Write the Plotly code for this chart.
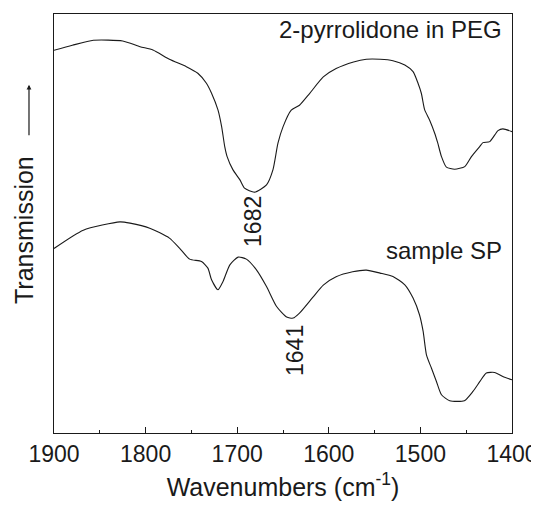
import plotly.graph_objects as go

# Wavenumbers (cm^-1) and transmission (arbitrary units)
wn_peg = [1900, 1880, 1857, 1825, 1806, 1792, 1774, 1755.5, 1743, 1733.6, 1728, 1721, 1717,
          1713.6, 1711, 1704.6, 1697, 1692, 1681, 1668, 1661, 1655.5, 1650, 1641, 1632, 1621,
          1606, 1592, 1573, 1559, 1544, 1530, 1517, 1508, 1502.6, 1499, 1495.3, 1490, 1484.4,
          1481, 1477, 1471.6, 1462.6, 1451.6, 1444.3, 1435.3, 1431.7, 1424.3, 1415.3, 1410, 1400]
tr_peg = [383, 388, 393, 392.3, 386.6, 383.3, 374, 366.6, 360, 350, 340, 323.3, 306.6,
          286.6, 276.6, 263.3, 253.3, 245, 241, 248.3, 263.3, 290, 306.3, 323, 328, 339.7,
          356.3, 364.7, 371.3, 374, 374, 372.6, 368.3, 361.6, 350, 340, 323.3, 313.3, 300,
          290, 276.6, 266, 264, 266.6, 276.6, 286.6, 290.6, 291.6, 302.6, 304.3, 301.6]

wn_sp = [1900, 1868, 1828, 1817, 1795.5, 1774, 1763, 1752, 1739, 1732, 1728, 1721, 1715.5,
         1708, 1699, 1690, 1679, 1668, 1657, 1646, 1639, 1632, 1617, 1606, 1592, 1574, 1559,
         1544, 1530, 1517, 1508, 1501, 1497, 1493.4, 1488, 1482.5, 1477, 1468, 1452, 1442.6,
         1435, 1428, 1419, 1410, 1400]
tr_sp = [184.7, 203, 211.3, 210, 205, 195, 185, 174, 171.6, 165, 153.3, 143.3, 151.6,
         168.3, 176, 174, 163.3, 146.6, 126.6, 116, 115, 120, 136.3, 148, 156.3, 161.3, 163,
         160, 156.6, 148.3, 135, 118.3, 101.6, 78.3, 65, 51.6, 38.3, 32.3, 32.3, 41.6,
         51.6, 60, 60.6, 56.6, 53.3]

series_names = ["2-pyrrolidone in PEG", "sample SP"]
peak_labels = [(1683, 212, "1682"), (1637, 83, "1641")]
x_ticks = [1900, 1800, 1700, 1600, 1500, 1400]

FONT = "Liberation Sans, Arial, sans-serif"
INK = "#1a1a1a"

fig = go.Figure()
for wn, tr, name in [(wn_peg, tr_peg, series_names[0]), (wn_sp, tr_sp, series_names[1])]:
    fig.add_trace(go.Scatter(x=wn, y=tr, mode="lines", name=name,
                             line=dict(color=INK, width=1.1, shape="spline", smoothing=0.6)))

# the page body has an 8px margin, so the figure is 8px smaller each way
fig.update_layout(
    width=531, height=498,
    margin=dict(l=46, r=27, t=6, b=73),
    paper_bgcolor="white", plot_bgcolor="white",
    showlegend=False,
    font=dict(family=FONT, color=INK),
)
fig.update_xaxes(
    range=[1900, 1400], tickvals=x_ticks, ticks="inside", ticklen=6, tickwidth=1,
    tickcolor=INK, showline=True, linecolor=INK, linewidth=1, mirror=True, automargin=False,
    showgrid=False, zeroline=False, tickfont=dict(size=23, family=FONT, color=INK),
    minor=dict(dtick=50, ticks="inside", ticklen=3, tickcolor=INK, showgrid=False),
    title=dict(text="Wavenumbers (cm<sup>-1</sup>)", font=dict(size=25, family=FONT, color=INK),
               standoff=12),
)
fig.update_yaxes(
    range=[0, 419.3], showticklabels=False, ticks="", showline=True, linecolor=INK,
    linewidth=1, mirror=True, showgrid=False, zeroline=False, automargin=False,
)

fig.add_annotation(text=series_names[0], xref="paper", yref="paper", x=0.982, y=0.963,
                   xanchor="right", yanchor="middle", showarrow=False,
                   font=dict(size=24, family=FONT, color=INK))
fig.add_annotation(text=series_names[1], xref="paper", yref="paper", x=0.982, y=0.436,
                   xanchor="right", yanchor="middle", showarrow=False,
                   font=dict(size=24, family=FONT, color=INK))
for x, y, t in peak_labels:
    fig.add_annotation(text=t, x=x, y=y, textangle=-90, showarrow=False,
                       xanchor="center", yanchor="middle",
                       font=dict(size=23, family=FONT, color=INK))

# y-axis title with arrow
fig.add_annotation(text="Transmission", xref="paper", yref="paper", x=-0.066, y=0.484,
                   textangle=-90, showarrow=False, xanchor="center", yanchor="middle",
                   font=dict(size=25, family=FONT, color=INK))
fig.add_annotation(text="", xref="paper", yref="paper", x=-0.0546, y=0.831,
                   ax=0, ay=52, showarrow=True, arrowhead=2, arrowsize=0.8,
                   arrowwidth=1.2, arrowcolor=INK)

fig.write_html("out.html")
